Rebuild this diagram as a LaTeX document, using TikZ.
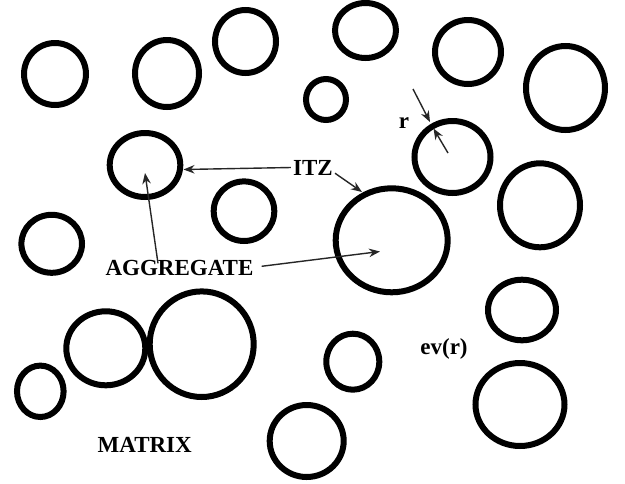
\documentclass[tikz,border=0pt]{standalone}
\usepackage{fontspec}
\setmainfont{Liberation Serif}
\usetikzlibrary{arrows.meta}
\begin{document}
\begin{tikzpicture}[x=1pt,y=-1pt,
  grain/.style={draw=black,line width=6pt},
  lbl/.style={font=\fontsize{23}{27}\selectfont\bfseries,inner sep=0pt,text=black},
  ptr/.style={draw=black!85,line width=1.4pt,-{Stealth[length=11pt,width=8.5pt]}}]
\useasboundingbox[fill=white] (0,0) rectangle (625,483);
% aggregates
\draw[grain] (55,74) ellipse [x radius=31,y radius=31];
\draw[grain] (167,73.5) ellipse [x radius=32,y radius=33.5];
\draw[grain] (245.5,41.5) ellipse [x radius=30.5,y radius=31.5];
\draw[grain] (365.5,30.5) ellipse [x radius=30.5,y radius=27.5];
\draw[grain] (468,52) ellipse [x radius=33,y radius=32];
\draw[grain] (565.5,88) ellipse [x radius=39.5,y radius=42];
\draw[grain] (326,99.5) ellipse [x radius=20,y radius=20.5];
\draw[grain] (145,165) ellipse [x radius=35.3,y radius=32];
\draw[grain] (452.5,157) ellipse [x radius=38,y radius=36];
\draw[grain] (540,205.3) ellipse [x radius=40,y radius=42];
\draw[grain] (244,211.2) ellipse [x radius=30.3,y radius=29.8];
\draw[grain] (51.7,243.8) ellipse [x radius=30.3,y radius=29];
\draw[grain] (391.7,240.3) ellipse [x radius=56,y radius=52];
\draw[grain] (105.8,348.3) ellipse [x radius=39.5,y radius=37];
\draw[grain] (201.7,344.2) ellipse [x radius=52,y radius=52.8];
\draw[grain] (522,310) ellipse [x radius=34,y radius=30.3];
\draw[grain] (352.8,361.7) ellipse [x radius=26.5,y radius=28];
\draw[grain] (40.3,391.3) ellipse [x radius=23.3,y radius=25.7];
\draw[grain] (520,404.5) ellipse [x radius=44.5,y radius=41.5];
\draw[grain] (306.7,441) ellipse [x radius=37,y radius=36];
% labels
\node[lbl] (itz) at (313,167.5) {ITZ};
\node[lbl] (agg) at (179.5,268.3) {AGGREGATE};
\node[lbl] (rr) at (404,123) {r};
\node[lbl] (ev) at (444,349) {ev(r)};
\node[lbl] (mat) at (144.7,445) {MATRIX};
% arrow targets
\coordinate (itzA) at (183.5,169.5);
\coordinate (itzB) at (362,192);
\coordinate (aggA) at (145,173);
\coordinate (aggB) at (380,251.5);
\coordinate (rOut) at (430,122);
\coordinate (rIn) at (433.5,128.5);
\coordinate (rTail1) at (413,89);
\coordinate (rTail2) at (448,153);
% arrows
\draw[ptr] ([xshift=-2pt]itz.west) -- (itzA);
\draw[ptr] ([xshift=2pt,yshift=2pt]itz.south east) -- (itzB);
\draw[ptr] ([xshift=-21.5pt,yshift=-3pt]agg.north) -- (aggA);
\draw[ptr] ([xshift=8pt,yshift=2pt]agg.east) -- (aggB);
\draw[ptr] (rTail1) -- (rOut);
\draw[ptr] (rTail2) -- (rIn);
\end{tikzpicture}
\end{document}
